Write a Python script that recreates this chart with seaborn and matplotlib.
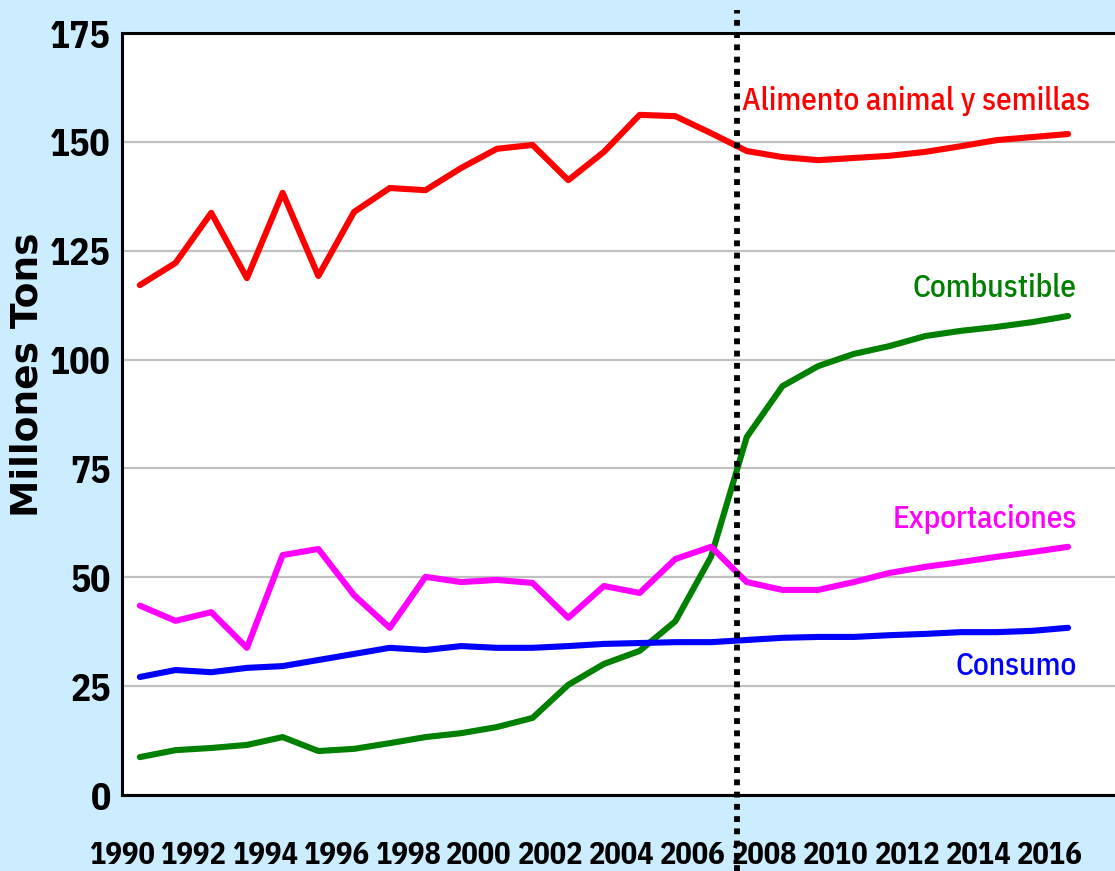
import numpy as np
import pandas as pd
import matplotlib
matplotlib.use("Agg")
import matplotlib.pyplot as plt
import seaborn as sns

# ---- data (marketing years, plotted at mid-year) ----
years = list(range(1990, 2017))
alimento = [117.1, 122.2, 133.7, 118.7, 138.3, 119.2, 133.9, 139.4, 138.9, 144.0,
            148.4, 149.3, 141.2, 147.7, 156.2, 155.9, 152.0, 147.9, 146.5, 145.8,
            146.3, 146.8, 147.7, 149.0, 150.4, 151.1, 151.8]
combustible = [8.7, 10.3, 10.8, 11.5, 13.3, 10.1, 10.6, 11.9, 13.3, 14.2,
               15.6, 17.7, 25.3, 30.1, 33.1, 39.9, 54.7, 82.2, 93.9, 98.5,
               101.3, 103.1, 105.4, 106.6, 107.5, 108.6, 110.0]
exportaciones = [43.5, 40.0, 42.0, 33.8, 55.1, 56.5, 45.9, 38.4, 50.1, 48.9,
                 49.4, 48.7, 40.7, 48.0, 46.4, 54.2, 57.0, 48.9, 47.1, 47.1,
                 48.9, 51.0, 52.4, 53.5, 54.7, 55.8, 57.0]
consumo = [27.1, 28.7, 28.2, 29.2, 29.6, 31.0, 32.4, 33.8, 33.3, 34.2,
           33.8, 33.8, 34.2, 34.7, 34.9, 35.1, 35.1, 35.6, 36.1, 36.3,
           36.3, 36.7, 37.0, 37.4, 37.4, 37.7, 38.4]
series_names = ["Alimento animal y semillas", "Combustible", "Exportaciones", "Consumo"]
series_colors = ["#FF0000", "#008000", "#FF00FF", "#0000FF"]
y_ticks = [0, 25, 50, 75, 100, 125, 150, 175]
x_tick_labels = list(range(1990, 2017, 2))
split_year = 2007.22
ylabel = "Millones Tons"

rows = []
for name, vals in zip(series_names, [alimento, combustible, exportaciones, consumo]):
    for yr, v in zip(years, vals):
        rows.append({"year": yr + 0.5, "value": v, "serie": name})
df = pd.DataFrame(rows)

sns.set_style("white")
bg = "#CCECFF"
fig = plt.figure(figsize=(11.15, 8.71), dpi=100, facecolor=bg)
ax = fig.add_axes([122 / 1115, 76 / 871, 993 / 1115, 762 / 871])
ax.set_facecolor("white")

sns.lineplot(data=df, x="year", y="value", hue="serie", hue_order=series_names,
             palette=dict(zip(series_names, series_colors)), linewidth=4.4,
             legend=False, ax=ax)

ax.set_xlim(1990, 1990 + 993 / 35.7)
ax.set_ylim(0, 175)
ax.set_yticks(y_ticks)
ax.yaxis.grid(True, color="#C0C0C0", linewidth=1.6)
ax.set_axisbelow(True)

narrow = ["IBM Plex Sans Condensed", "DejaVu Sans"]
ax.set_xticks(years)
ax.set_xticklabels([str(y) if y in x_tick_labels else "" for y in years],
                   fontfamily=narrow, fontweight="bold", fontsize=22, color="black")
ax.set_yticklabels([str(t) for t in y_ticks], fontfamily=narrow,
                   fontweight="bold", fontsize=27, color="black")
ax.tick_params(axis="x", direction="out", length=7, width=1.6, pad=26, color="black")
ax.tick_params(axis="y", direction="out", length=6, width=1.6, pad=2, color="black")

for side in ["left", "top", "bottom"]:
    ax.spines[side].set_visible(True)
    ax.spines[side].set_color("black")
    ax.spines[side].set_linewidth(2.2)
ax.spines["right"].set_visible(False)

ax.set_xlabel("")
ax.set_ylabel(ylabel, fontfamily="DejaVu Sans", fontweight="bold", fontsize=27, color="black")
ax.yaxis.set_label_coords(-0.0775, 0.551)

ax.axvline(split_year, ymin=-0.1, ymax=1.03, color="black", linewidth=4.2,
           linestyle=(0, (1, 1.1)), clip_on=False, zorder=5)

lab_kw = dict(fontfamily=narrow, fontsize=22.5, fontweight="medium")
ax.text(2007.37, 157.3, series_names[0], color=series_colors[0], ha="left", va="baseline", **lab_kw)
ax.text(2016.75, 114.4, series_names[1], color=series_colors[1], ha="right", va="baseline", **lab_kw)
ax.text(2016.75, 61.3, series_names[2], color=series_colors[2], ha="right", va="baseline", **lab_kw)
ax.text(2016.75, 27.6, series_names[3], color=series_colors[3], ha="right", va="baseline", **lab_kw)

fig.savefig("out.png", dpi=100, facecolor=bg)
